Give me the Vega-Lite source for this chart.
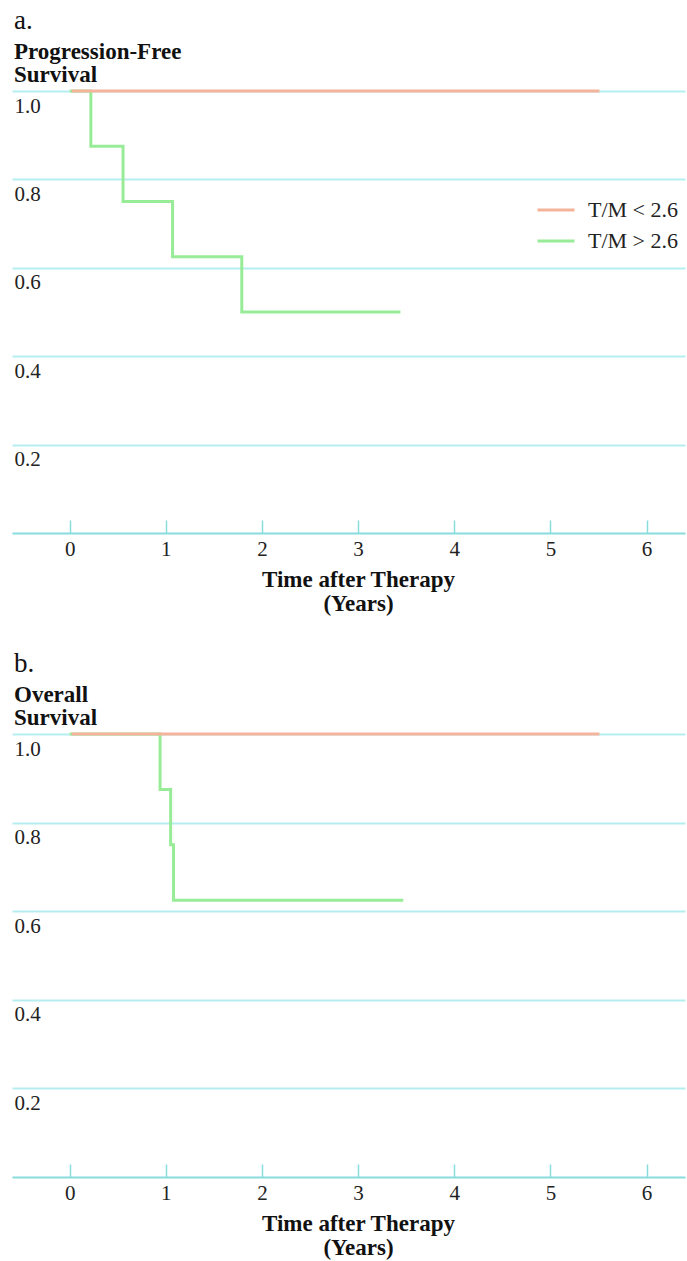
{
  "$schema": "https://vega.github.io/schema/vega-lite/v6.json",
  "background": "white",
  "padding": {"left": 12, "top": 7, "right": 2, "bottom": 2},
  "bounds": "flush",
  "spacing": 201,
  "config": {
    "view": {"stroke": null},
    "font": "Liberation Serif",
    "title": {"font": "Liberation Serif", "fontSize": 27, "fontWeight": "normal", "color": "#111", "anchor": "start", "frame": "group", "subtitleFont": "Liberation Serif", "subtitleFontSize": 23, "subtitleFontWeight": "bold", "subtitleColor": "#111", "subtitleLineHeight": 23, "subtitlePadding": 6, "offset": -3, "dx": 2},
    "axisX": {"grid": false, "domainColor": "#8adcdc", "domainWidth": 2, "tickColor": "#8adcdc", "tickSize": -13, "tickWidth": 1.5, "labelFont": "Liberation Serif", "labelFontSize": 21, "labelColor": "#222", "labelPadding": 18, "titleFont": "Liberation Serif", "titleFontSize": 23, "titleFontWeight": "bold", "titleColor": "#111", "titleLineHeight": 24, "titleX": 346, "titlePadding": 9},
    "axisY": {"grid": true, "gridColor": "#b5eef0", "gridWidth": 2, "domain": false, "ticks": false, "labelAlign": "left", "labelBaseline": "middle", "labelPadding": -2, "labelOffset": 15, "labelFont": "Liberation Serif", "labelFontSize": 21, "labelColor": "#222"},
    "legend": {"title": null, "orient": "none", "legendX": 524, "legendY": 99, "symbolType": "stroke", "symbolSize": 1369, "symbolStrokeWidth": 3, "labelFont": "Liberation Serif", "labelFontSize": 22, "labelColor": "#222", "labelOffset": 12, "rowPadding": -21}
  },
  "datasets": {
    "a": [
      {"group": "T/M > 2.6", "years": 0, "survival": 1},
      {"group": "T/M > 2.6", "years": 0.22, "survival": 0.875},
      {"group": "T/M > 2.6", "years": 0.555, "survival": 0.75},
      {"group": "T/M > 2.6", "years": 1.07, "survival": 0.625},
      {"group": "T/M > 2.6", "years": 1.79, "survival": 0.5},
      {"group": "T/M > 2.6", "years": 3.44, "survival": 0.5},
      {"group": "T/M < 2.6", "years": 0.02, "survival": 1},
      {"group": "T/M < 2.6", "years": 5.51, "survival": 1}
    ],
    "b": [
      {"group": "T/M > 2.6", "years": 0, "survival": 1},
      {"group": "T/M > 2.6", "years": 0.94, "survival": 0.875},
      {"group": "T/M > 2.6", "years": 1.05, "survival": 0.75},
      {"group": "T/M > 2.6", "years": 1.08, "survival": 0.625},
      {"group": "T/M > 2.6", "years": 3.47, "survival": 0.625},
      {"group": "T/M < 2.6", "years": 0.02, "survival": 1},
      {"group": "T/M < 2.6", "years": 5.51, "survival": 1}
    ]
  },
  "vconcat": [
    {
      "width": 673, "height": 442,
      "title": {"text": "a.", "subtitle": ["Progression-Free", "Survival"]},
      "data": {"name": "a"},
      "mark": {"type": "line", "interpolate": "step-after", "strokeWidth": 3},
      "encoding": {
        "x": {"field": "years", "type": "quantitative", "scale": {"domain": [-0.6, 6.4], "nice": false, "zero": false}, "axis": {"title": ["Time after Therapy", "(Years)"], "values": [0, 1, 2, 3, 4, 5, 6], "format": "d"}},
        "y": {"field": "survival", "type": "quantitative", "scale": {"domain": [0, 1], "nice": false}, "axis": {"title": null, "values": [0.2, 0.4, 0.6, 0.8, 1.0], "format": ".1f"}},
        "color": {"field": "group", "type": "nominal", "scale": {"domain": ["T/M < 2.6", "T/M > 2.6"], "range": ["#f6b39b", "#98ec98"]}}
      }
    },
    {
      "width": 673, "height": 443,
      "title": {"text": "b.", "subtitle": ["Overall", "Survival"]},
      "data": {"name": "b"},
      "mark": {"type": "line", "interpolate": "step-after", "strokeWidth": 3},
      "encoding": {
        "x": {"field": "years", "type": "quantitative", "scale": {"domain": [-0.6, 6.4], "nice": false, "zero": false}, "axis": {"title": ["Time after Therapy", "(Years)"], "values": [0, 1, 2, 3, 4, 5, 6], "format": "d"}},
        "y": {"field": "survival", "type": "quantitative", "scale": {"domain": [0, 1], "nice": false}, "axis": {"title": null, "values": [0.2, 0.4, 0.6, 0.8, 1.0], "format": ".1f"}},
        "color": {"field": "group", "type": "nominal", "scale": {"domain": ["T/M < 2.6", "T/M > 2.6"], "range": ["#f6b39b", "#98ec98"]}}
      }
    }
  ]
}
